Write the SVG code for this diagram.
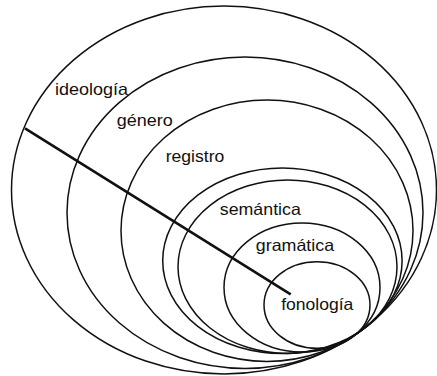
<svg xmlns="http://www.w3.org/2000/svg" width="437" height="376" viewBox="0 0 437 376">
<style>
.ring{fill:none;stroke:#111;stroke-width:1.5}
.lbl{font-family:"Liberation Sans",Arial,sans-serif;font-size:16.5px;fill:#111}
.axis{stroke:#111;stroke-width:2.6;fill:none;stroke-linecap:butt}
</style>
<rect x="0" y="0" width="437" height="376" fill="#fff"/>
<g id="ideologia">
<ellipse class="ring" cx="224" cy="190" rx="212.5" ry="184"/>
<text class="lbl" x="55" y="94.5" textLength="73" lengthAdjust="spacingAndGlyphs">ideología</text>
</g>
<g id="genero">
<ellipse class="ring" cx="245" cy="212.7" rx="178" ry="155.7"/>
<text class="lbl" x="116.7" y="125.5" textLength="56" lengthAdjust="spacingAndGlyphs">género</text>
</g>
<g id="registro">
<ellipse class="ring" cx="267" cy="230.7" rx="146" ry="130.7"/>
<text class="lbl" x="165.7" y="161.5" textLength="58.6" lengthAdjust="spacingAndGlyphs">registro</text>
</g>
<g id="semantica">
<ellipse class="ring" cx="282.4" cy="260.8" rx="119.7" ry="92.8"/>
<ellipse class="ring" cx="287.5" cy="266.7" rx="109.5" ry="86.7"/>
<text class="lbl" x="219.8" y="214.5" textLength="81" lengthAdjust="spacingAndGlyphs">semántica</text>
</g>
<g id="gramatica">
<ellipse class="ring" cx="302" cy="287.5" rx="78" ry="64.5"/>
<text class="lbl" x="255.8" y="251" textLength="78.3" lengthAdjust="spacingAndGlyphs">gramática</text>
</g>
<g id="fonologia">
<ellipse class="ring" cx="317" cy="305" rx="53" ry="43.3"/>
<text class="lbl" x="281.2" y="310" textLength="72.2" lengthAdjust="spacingAndGlyphs">fonología</text>
</g>
<g id="connectors">
<line class="axis" x1="25" y1="128.3" x2="290.7" y2="294.3"/>
</g>
</svg>
